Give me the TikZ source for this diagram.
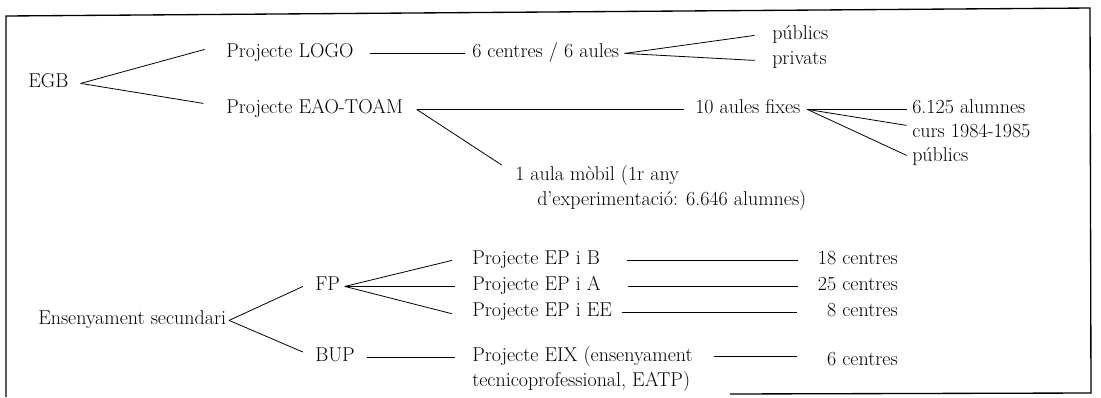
\documentclass[tikz,border=0pt]{standalone}
\usepackage{tikz}
\usetikzlibrary{positioning}
\tikzset{lbl/.style={anchor=base west,inner sep=0pt,text height=1.6ex,text depth=.35ex}}
\tikzset{rlbl/.style={lbl,anchor=base east}}
\tikzset{blk/.style={anchor=north west,inner sep=0pt,align=left}}
\tikzset{lnk/.style={line width=0.6pt}}

\begin{document}
\begin{tikzpicture}[x=0.75pt,y=-0.75pt,font=\fontsize{15}{19}\selectfont]
\useasboundingbox (0,0) rectangle (1101,397);
% \draw[help lines,step=50] (0,0) grid (1101,397);
\coordinate (bl) at (6,397);
\coordinate (tl) at (6,16);
\coordinate (tr) at (1090,8);
\coordinate (br) at (1091,393);
\coordinate (bm) at (730,394);
\draw[line width=1pt] (bl) -- (tl) -- (tr) -- (br) -- (bm);
% EGB
\node (egb) [lbl] at (28,87) {EGB};
\node (logo) [lbl] at (226,57) {Projecte LOGO};
\node (eao) [lbl] at (226,113) {Projecte EAO-TOAM};
\node (aules6) [lbl] at (472,57) {6 centres / 6 aules};
\node (pub1) [lbl] at (772,39) {públics};
\node (priv) [lbl] at (772,64) {privats};
\node (fixes) [lbl] at (695,113) {10 aules fixes};
\node (alum) [lbl] at (912,113) {6.125 alumnes};
\node (curs) [lbl] at (912,137) {curs 1984-1985};
\node (pub2) [lbl] at (912,161) {públics};
\node (mobil) [blk] at (515,165) {1 aula mòbil (1r any\\\hspace*{1.1em}d'experimentació: 6.646 alumnes)};
%
\path[lnk] ([xshift=9pt]egb.east) edge ([xshift=-16pt,yshift=3pt]logo.west);
\path[lnk] ([xshift=9pt]egb.east) edge ([xshift=-17pt,yshift=4.5pt]eao.west);
\path[lnk,shorten <=12pt,shorten >=5pt] (logo) edge (aules6);
\path[lnk] ([xshift=4pt]aules6.east) edge ([xshift=-13pt]pub1.west);
\path[lnk] ([xshift=4pt]aules6.east) edge ([xshift=-13pt]priv.west);
\path[lnk] ([xshift=10pt]eao.east) edge ([xshift=-8pt]fixes.west);
\path[lnk] ([xshift=10pt]eao.east) edge ([xshift=-10pt]mobil.north west);
\path[lnk] ([xshift=5pt]fixes.east) edge ([xshift=-4pt]alum.west);
\path[lnk] ([xshift=5pt]fixes.east) edge ([xshift=-4pt,yshift=6pt]curs.west);
\path[lnk] ([xshift=5pt]fixes.east) edge ([xshift=-4pt,yshift=1.5pt]pub2.west);

% Ensenyament secundari
\node (ens) [lbl] at (38,324) {Ensenyament secundari};
\node (fp) [lbl] at (315,290) {FP};
\node (bup) [lbl] at (315,361) {BUP};
\node (epb) [lbl] at (472,264) {Projecte EP i B};
\node (epa) [lbl] at (472,290) {Projecte EP i A};
\node (epee) [lbl] at (472,316) {Projecte EP i EE};
\node (eix) [blk] at (472,346) {Projecte EIX (ensenyament\\tecnicoprofessional, EATP)};
\node (c18) [rlbl] at (898,264) {18 centres};
\node (c25) [rlbl] at (898,290) {25 centres};
\node (c8) [rlbl] at (898,316) {8 centres};
\node (c6) [rlbl] at (898,365) {6 centres};
\coordinate (eixend) at ([xshift=15.5pt,yshift=-8pt]eix.north east);
%
\path[lnk] ([xshift=2pt]ens.east) edge ([xshift=-9pt]fp.west);
\path[lnk] ([xshift=2pt]ens.east) edge ([xshift=-9pt,yshift=4pt]bup.west);
\path[lnk] ([xshift=3.5pt]fp.east) edge ([xshift=-15pt]epb.west);
\path[lnk] ([xshift=3.5pt]fp.east) edge ([xshift=-12.5pt]epa.west);
\path[lnk] ([xshift=3.5pt]fp.east) edge ([xshift=-15pt,yshift=-1pt]epee.west);
\path[lnk,shorten <=9pt,shorten >=13pt] (bup.east) edge (bup.east -| eix.west);
\path[lnk,shorten <=20pt,shorten >=15pt] (epb) edge (c18);
\path[lnk,shorten <=20pt,shorten >=15pt] (epa) edge (c25);
\path[lnk,shorten <=7pt,shorten >=22.5pt] (epee) edge (c8);
\path[lnk,shorten >=22.5pt] (eixend) edge (eixend -| c6.west);
\end{tikzpicture}
\end{document}
